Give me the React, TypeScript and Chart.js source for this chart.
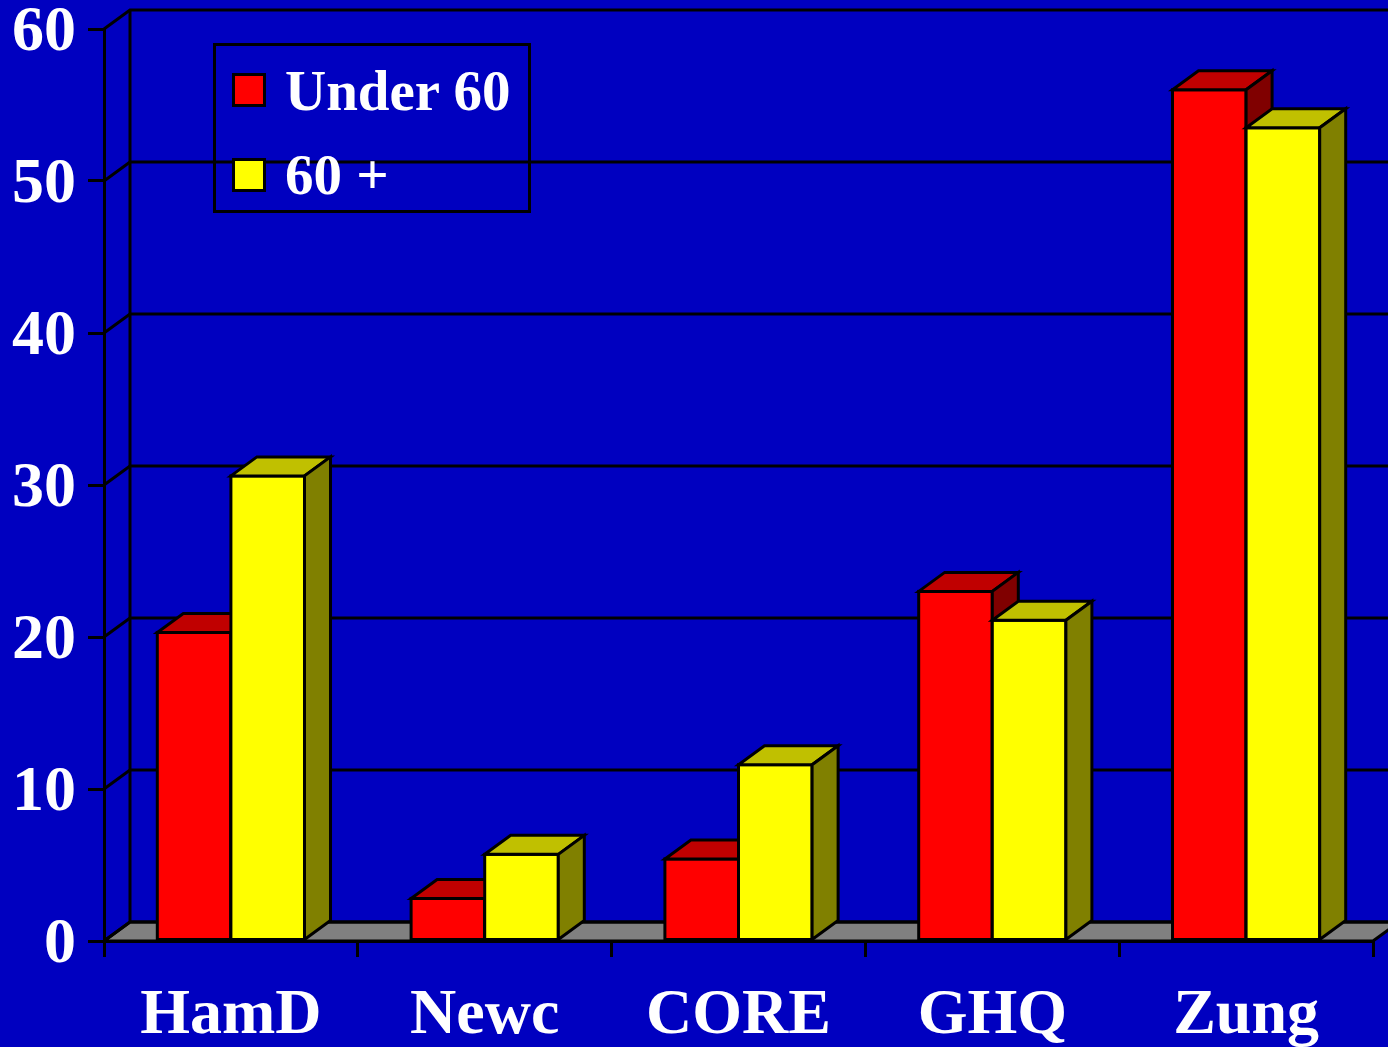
import React, { useEffect, useRef } from 'react';
import { Chart, registerables } from 'chart.js';

Chart.register(...registerables);

// ---- data ----
const categories = ['HamD', 'Newc', 'CORE', 'GHQ', 'Zung'];
const seriesLabels = ['Under 60', '60 +'];
const under60 = [20.3, 2.8, 5.4, 23.0, 56.0];
const over60 = [30.6, 5.7, 11.6, 21.1, 53.5];
const yMin = 0;
const yMax = 60;
const yStep = 10;

// ---- styles ----
const W = 1388;
const H = 1047;
const BG = '#0000C0';
const FRONT = ['#FF0000', '#FFFF00'];
const TOP = ['#C00000', '#C0C000'];
const SIDE = ['#800000', '#808000'];
const FLOOR = '#808080';
const DX = 26;
const DY = -19;
const LW = 3;
const FONT = '"Times New Roman", "Liberation Serif", serif';

function poly(ctx: CanvasRenderingContext2D, pts: number[][], fill: string) {
  ctx.beginPath();
  ctx.moveTo(pts[0][0], pts[0][1]);
  for (let i = 1; i < pts.length; i++) ctx.lineTo(pts[i][0], pts[i][1]);
  ctx.closePath();
  ctx.fillStyle = fill;
  ctx.fill();
  ctx.stroke();
}

const threeD = {
  id: 'threeD',
  beforeDatasetsDraw(chart: any) {
    const { ctx, chartArea: a, scales } = chart;
    const ys = scales.y;
    ctx.save();
    ctx.lineWidth = LW;
    ctx.strokeStyle = '#000';
    ctx.lineJoin = 'miter';
    // floor
    poly(
      ctx,
      [
        [a.left, a.bottom],
        [a.right, a.bottom],
        [a.right + DX, a.bottom + DY],
        [a.left + DX, a.bottom + DY],
      ],
      FLOOR
    );
    // side-wall diagonals + back-wall gridlines
    for (const t of ys.ticks) {
      const py = ys.getPixelForValue(t.value);
      ctx.beginPath();
      ctx.moveTo(a.left, py);
      ctx.lineTo(a.left + DX, py + DY);
      ctx.lineTo(a.right + DX + 20, py + DY);
      ctx.stroke();
    }
    // back wall left edge
    ctx.beginPath();
    ctx.moveTo(a.left + DX, a.top + DY);
    ctx.lineTo(a.left + DX, a.bottom + DY);
    ctx.stroke();
    ctx.restore();
  },
  afterDatasetsDraw(chart: any) {
    const { ctx } = chart;
    const n = chart.data.labels.length;
    ctx.save();
    ctx.lineWidth = LW;
    ctx.strokeStyle = '#000';
    ctx.lineJoin = 'miter';
    for (let i = 0; i < n; i++) {
      for (let d = 0; d < chart.data.datasets.length; d++) {
        const el = chart.getDatasetMeta(d).data[i];
        if (!el) continue;
        const p = el.getProps(['x', 'y', 'base', 'width'], true);
        const l = p.x - p.width / 2;
        const r = p.x + p.width / 2;
        const top = Math.min(p.y, p.base);
        const bot = Math.max(p.y, p.base);
        // front face (library element), then its outline
        el.draw(ctx);
        ctx.lineWidth = LW;
        ctx.strokeStyle = '#000';
        ctx.strokeRect(l, top, r - l, bot - top);
        // top face
        poly(ctx, [[l, top], [r, top], [r + DX, top + DY], [l + DX, top + DY]], TOP[d]);
        // right side face
        poly(ctx, [[r, top], [r + DX, top + DY], [r + DX, bot + DY], [r, bot]], SIDE[d]);
      }
    }
    ctx.restore();
  },
};

export default function App() {
  const ref = useRef<HTMLCanvasElement | null>(null);

  useEffect(() => {
    if (!ref.current) return;
    const tickFont = { family: FONT, size: 64, weight: 'bold' as const, lineHeight: 1 };
    const chart = new Chart(ref.current, {
      type: 'bar',
      data: {
        labels: categories,
        datasets: [
          { label: seriesLabels[0], data: under60, backgroundColor: FRONT[0], borderWidth: 0 },
          { label: seriesLabels[1], data: over60, backgroundColor: FRONT[1], borderWidth: 0 },
        ],
      },
      options: {
        responsive: false,
        animation: false,
        events: [],
        layout: { padding: { top: 29, right: 15, left: 0, bottom: 0 } },
        datasets: { bar: { categoryPercentage: 0.58, barPercentage: 1 } } as any,
        plugins: { legend: { display: false }, tooltip: { enabled: false }, title: { display: false } },
        scales: {
          x: {
            offset: true,
            grid: { display: true, offset: true, drawOnChartArea: false, drawTicks: true, tickLength: 16, color: '#000', lineWidth: LW },
            border: { display: true, color: '#000', width: LW },
            ticks: { color: '#fff', font: tickFont, padding: 27, maxRotation: 0, autoSkip: false },
            afterFit: (s: any) => {
              s.height = H - 941;
              s.paddingLeft = 0;
              s.paddingRight = 0;
            },
          },
          y: {
            min: yMin,
            max: yMax,
            grid: { drawOnChartArea: false, drawTicks: true, tickLength: 16, color: '#000', lineWidth: LW },
            border: { display: true, color: '#000', width: LW },
            ticks: { stepSize: yStep, color: '#fff', font: tickFont, padding: 12, labelOffset: 4 },
            afterFit: (s: any) => {
              s.width = 104;
              s.paddingTop = 0;
              s.paddingBottom = 0;
            },
          },
        },
      },
      plugins: [threeD],
    });
    return () => chart.destroy();
  }, []);

  const legendText: React.CSSProperties = {
    position: 'absolute',
    left: 285,
    fontFamily: FONT,
    fontWeight: 'bold',
    fontSize: 57,
    lineHeight: '57px',
    color: '#fff',
    whiteSpace: 'pre',
    margin: 0,
  };
  const sq = (c: string, top: number): React.CSSProperties => ({
    position: 'absolute',
    left: 232,
    top,
    width: 34,
    height: 34,
    boxSizing: 'border-box',
    background: c,
    border: '3px solid #000',
  });

  return (
    <div style={{ position: 'absolute', left: 0, top: 0, width: W, height: H, background: BG, overflow: 'hidden' }}>
      <canvas ref={ref} width={W} height={H} style={{ position: 'absolute', left: 0, top: 0, width: W, height: H }} />
      <div
        style={{
          position: 'absolute',
          left: 213,
          top: 43,
          width: 318,
          height: 170,
          boxSizing: 'border-box',
          border: '3px solid #000',
        }}
      />
      <div style={sq(FRONT[0], 73)} />
      <div style={{ ...legendText, top: 62 }}>{seriesLabels[0]}</div>
      <div style={sq(FRONT[1], 158)} />
      <div style={{ ...legendText, top: 146 }}>{seriesLabels[1]}</div>
    </div>
  );
}
